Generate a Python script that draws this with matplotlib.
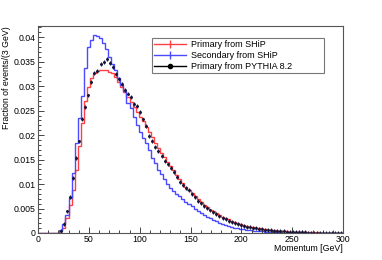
import numpy as np
import matplotlib
matplotlib.use("Agg")
import matplotlib.pyplot as plt
from matplotlib.lines import Line2D
from matplotlib.ticker import MultipleLocator

# 3 GeV bins, first 7 bins (0-21 GeV) empty
bin_edges = np.arange(0, 301, 3)

primary_ship = [0, 0, 0, 0, 0, 0, 0,
    0.0004, 0.0011, 0.0030, 0.0057, 0.0088, 0.0129, 0.0177, 0.0225, 0.0270, 0.0298,
    0.0316, 0.0326, 0.0331, 0.0334, 0.0334, 0.0333, 0.0330, 0.0326, 0.0318, 0.0308,
    0.0298, 0.0289, 0.0278, 0.0267, 0.0258, 0.0247, 0.0237, 0.0228, 0.0217, 0.0206,
    0.0196, 0.0184, 0.0174, 0.0163, 0.0155, 0.0146, 0.0137, 0.0128, 0.0118, 0.0110,
    0.0102, 0.0095, 0.0088, 0.0081, 0.0075, 0.0069, 0.0063, 0.0058, 0.0053, 0.0048,
    0.0044, 0.0040, 0.0037, 0.0033, 0.0030, 0.0028, 0.0025, 0.0023, 0.0020, 0.0018,
    0.0016, 0.0015, 0.0013, 0.0012, 0.0011, 0.0010, 0.0009, 0.0008, 0.0007, 0.0006,
    0.0006, 0.0005, 0.0005, 0.0004, 0.0004, 0.0003, 0.0003, 0.0003, 0.0002, 0.0003,
    0.0002, 0.0002, 0.0002, 0.0001, 0.0002, 0.0001, 0.0001, 0.0001, 0.0001, 0.0001,
    0.0001, 0.00005, 0.0001]

secondary_ship = [0, 0, 0, 0, 0, 0, 0,
    0.0006, 0.0018, 0.0037, 0.0072, 0.0122, 0.0184, 0.0235, 0.0280, 0.0337, 0.0380,
    0.0395, 0.0405, 0.0403, 0.0398, 0.0388, 0.0375, 0.0360, 0.0345, 0.0333, 0.0317,
    0.0303, 0.0290, 0.0266, 0.0255, 0.0238, 0.0220, 0.0207, 0.0194, 0.0183, 0.0170,
    0.0153, 0.0143, 0.0129, 0.0120, 0.0110, 0.0100, 0.0092, 0.0085, 0.0080, 0.0076,
    0.0070, 0.0064, 0.0060, 0.0055, 0.0050, 0.0045, 0.0041, 0.0037, 0.0033, 0.0030,
    0.0027, 0.0024, 0.0021, 0.0019, 0.0017, 0.0015, 0.0013, 0.0011, 0.0010, 0.0009,
    0.0008, 0.0007, 0.0006, 0.0005, 0.00045, 0.0004, 0.00035, 0.0003, 0.00025, 0.0002,
    0.00018, 0.00015, 0.00012, 0.0001, 0.0001, 0.00008, 0.00008, 0.00006, 0.00006, 0.00005,
    0.00005, 0.00004, 0.00004, 0.00003, 0.00003, 0.00003, 0.00002, 0.00002, 0.00002, 0.00002,
    0.00001, 0.00001, 0.00001]

pythia_centers = np.arange(22.5, 300, 3)
pythia = [
    0.0004, 0.0018, 0.0044, 0.0074, 0.0113, 0.0153, 0.0187, 0.0233, 0.0257, 0.0281,
    0.0309, 0.0327, 0.0331, 0.0346, 0.0350, 0.0355, 0.0347, 0.0340, 0.0325, 0.0314,
    0.0305, 0.0292, 0.0285, 0.0278, 0.0264, 0.0260, 0.0248, 0.0232, 0.0218, 0.0198,
    0.0188, 0.0176, 0.0168, 0.0158, 0.0147, 0.0140, 0.0132, 0.0124, 0.0115, 0.0105,
    0.0098, 0.0092, 0.0087, 0.0079, 0.0073, 0.0066, 0.0061, 0.0056, 0.0051, 0.0046,
    0.0042, 0.0038, 0.0034, 0.0031, 0.0028, 0.0025, 0.0022, 0.0020, 0.0018, 0.0016,
    0.0014, 0.0013, 0.0012, 0.0011, 0.0010, 0.0009, 0.0008, 0.0007, 0.0006, 0.0006,
    0.0005, 0.0005, 0.0004, 0.0004, 0.0003, 0.0003, 0.0003, 0.0002, 0.0002, 0.0002,
    0.0002, 0.0001, 0.0001, 0.0001, 0.0001, 0.0001, 0.0001, 0.0001, 0.0001, 0.0001,
    0.0, 0.0, 0.0]
pythia_err = 0.0004

red = '#ff4040'
blue = '#4a4aff'
dark = '#15153a'

plt.rcParams['font.family'] = 'Liberation Sans'
fig = plt.figure(figsize=(3.82, 2.60), dpi=100)
ax = fig.add_axes([38 / 382, 27 / 260, 305 / 382, 207 / 260])

ax.stairs(primary_ship, bin_edges, color=red, lw=1.0, baseline=None)
ax.stairs(secondary_ship, bin_edges, color=blue, lw=1.0, baseline=None)
ax.errorbar(pythia_centers, pythia, yerr=pythia_err, xerr=1.0, fmt='o', ms=1.1,
            color=dark, elinewidth=0.8, capsize=0)

ax.set_xlim(0, 300)
ax.set_ylim(0, 0.0423)
ax.xaxis.set_major_locator(MultipleLocator(50))
ax.xaxis.set_minor_locator(MultipleLocator(10))
ax.yaxis.set_major_locator(MultipleLocator(0.005))
ax.yaxis.set_minor_locator(MultipleLocator(0.001))
ax.set_yticklabels([f'{v:g}' for v in ax.get_yticks()])
ax.tick_params(which='both', direction='in', labelsize=6.3, colors='#444444',
               labelcolor='black', width=0.7)
ax.tick_params(which='major', length=4, pad=1.5)
ax.tick_params(which='minor', length=2)
for s in ax.spines.values():
    s.set_color('#555555')
    s.set_linewidth(0.8)

ax.set_xlabel('Momentum [GeV]', fontsize=6.3, loc='right', labelpad=0)
ax.set_ylabel('Fraction of events/(3 GeV)', fontsize=6.3, loc='top', labelpad=2)

handles = [
    Line2D([], [], color=red, lw=1, marker='|', ms=6, mew=1),
    Line2D([], [], color=blue, lw=1, marker='|', ms=6, mew=1),
    Line2D([], [], color='black', lw=1, marker='o', ms=3),
]
labels = ['Primary from SHiP', 'Secondary from SHiP', 'Primary from PYTHIA 8.2']
leg = ax.legend(handles, labels, loc='upper left',
                bbox_to_anchor=(0.374, 0.749, 0.564, 0.193), mode='expand',
                fontsize=6.5, frameon=True, fancybox=False, borderpad=0.25,
                labelspacing=0.2, handlelength=3.5, handletextpad=0.6,
                borderaxespad=0)
leg.get_frame().set_edgecolor('#555555')
leg.get_frame().set_linewidth(0.8)

fig.savefig('out.png', dpi=100)
